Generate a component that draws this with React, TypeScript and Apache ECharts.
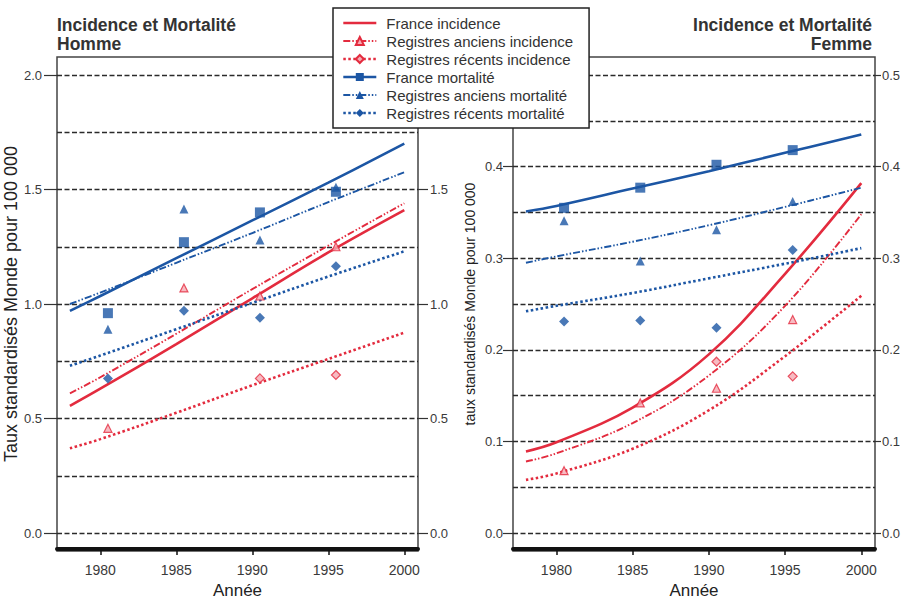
import React, { useEffect, useRef } from 'react';
import * as echarts from 'echarts';

// ---------- data ----------
const fitYears = [1978, 1980, 1985, 1990, 1995, 2000];
const pointYears = [1980.5, 1985.5, 1990.5, 1995.5];
const xTickYears = [1980, 1985, 1990, 1995, 2000];

const seriesNames = [
  'France incidence',
  'Registres anciens incidence',
  'Registres récents incidence',
  'France mortalité',
  'Registres anciens mortalité',
  'Registres récents mortalité',
];

// Homme – fitted curves
const hFranceInc = [0.555, 0.63, 0.825, 1.025, 1.225, 1.41];
const hAnciensInc = [0.61, 0.68, 0.87, 1.065, 1.255, 1.44];
const hRecentsInc = [0.37, 0.41, 0.525, 0.645, 0.76, 0.875];
const hFranceMort = [0.97, 1.035, 1.2, 1.365, 1.53, 1.7];
const hAnciensMort = [1.0, 1.05, 1.18, 1.31, 1.445, 1.575];
const hRecentsMort = [0.73, 0.775, 0.89, 1.005, 1.12, 1.23];
// Homme – observed points
const hAnciensIncPts = [0.457, 1.07, 1.035, 1.25];
const hRecentsIncPts = [null, null, 0.675, 0.69];
const hFranceMortPts = [0.96, 1.27, 1.4, 1.49];
const hAnciensMortPts = [0.89, 1.415, 1.28, 1.51];
const hRecentsMortPts = [0.675, 0.97, 0.94, 1.165];

// Femme – fitted curves
const fFranceInc = [0.089, 0.099, 0.137, 0.195, 0.283, 0.382];
const fAnciensInc = [0.078, 0.087, 0.12, 0.172, 0.248, 0.348];
const fRecentsInc = [0.058, 0.065, 0.092, 0.134, 0.193, 0.259];
const fFranceMort = [0.351, 0.357, 0.376, 0.395, 0.415, 0.435];
const fAnciensMort = [0.295, 0.302, 0.318, 0.336, 0.356, 0.377];
const fRecentsMort = [0.242, 0.248, 0.262, 0.278, 0.294, 0.311];
// Femme – observed points
const fAnciensIncPts = [0.068, 0.142, 0.158, 0.233];
const fRecentsIncPts = [null, null, 0.187, 0.171];
const fFranceMortPts = [0.355, 0.377, 0.402, 0.418];
const fAnciensMortPts = [0.341, 0.297, 0.331, 0.362];
const fRecentsMortPts = [0.231, 0.232, 0.224, 0.309];

const hommeYTicks = { min: 0, max: 2, label: 0.5, grid: 0.25 };
const femmeYTicks = { min: 0, max: 0.5, label: 0.1, grid: 0.05 };

// ---------- styles ----------
const FONT = '"Liberation Sans", Arial, Helvetica, sans-serif';
const RED = '#e32b3e';
const RED_FILL = '#f5aab3';
const BLUE = '#1c56a4';
const DASHDOT = [7, 2, 1.5, 2, 1.5, 2];
const DOTTED = [2.5, 2.5];

const styles = [
  { color: RED, type: 'solid', width: 2.6, symbol: 'none', size: 0, fill: RED, border: 0 },
  { color: RED, type: DASHDOT, width: 1.9, symbol: 'triangle', size: 8, fill: RED_FILL, border: 1.2 },
  { color: RED, type: DOTTED, width: 2.6, symbol: 'diamond', size: 9, fill: RED_FILL, border: 1.2 },
  { color: BLUE, type: 'solid', width: 2.6, symbol: 'rect', size: 10, fill: BLUE, border: 0 },
  { color: BLUE, type: DASHDOT, width: 1.9, symbol: 'triangle', size: 9, fill: BLUE, border: 0 },
  { color: BLUE, type: DOTTED, width: 2.6, symbol: 'diamond', size: 10, fill: BLUE, border: 0 },
];

function panelSeries(gridIdx: number, curves: number[][], points: ((number | null)[] | null)[]) {
  const out: any[] = [];
  curves.forEach((vals, i) => {
    const st = styles[i];
    out.push({
      type: 'line',
      name: seriesNames[i],
      xAxisIndex: gridIdx,
      yAxisIndex: gridIdx * 3,
      data: fitYears.map((x, k) => [x, vals[k]]),
      smooth: 0.4,
      showSymbol: false,
      symbol: st.symbol,
      lineStyle: { color: st.color, width: st.width, type: st.type, cap: 'butt' },
      itemStyle: { color: st.fill, borderColor: st.color, borderWidth: st.border },
      silent: true,
      z: 2,
    });
  });
  points.forEach((vals, i) => {
    if (!vals) return;
    const st = styles[i];
    const data: number[][] = [];
    vals.forEach((v, k) => {
      if (v !== null) data.push([pointYears[k], v]);
    });
    out.push({
      type: 'scatter',
      name: seriesNames[i],
      xAxisIndex: gridIdx,
      yAxisIndex: gridIdx * 3,
      data,
      symbol: st.symbol,
      symbolSize: st.size,
      itemStyle: { color: st.fill, borderColor: st.color, borderWidth: st.border },
      silent: true,
      z: 3,
    });
  });
  return out;
}

// hideAt: a tick value whose label is covered by the legend in the original
const labelStyle = (margin: number, hideAt: number | null) => ({
  show: true,
  margin,
  fontSize: 13,
  color: '#3a3a3a',
  fontFamily: FONT,
  formatter: (v: number) => (hideAt !== null && Math.abs(v - hideAt) < 1e-9 ? '' : v.toFixed(1)),
});

function yAxesFor(
  gridIdx: number,
  t: any,
  leftTick: number,
  leftMargin: number,
  leftHide: number | null,
  rightTick: number,
  rightMargin: number,
  rightHide: number | null,
  name: string,
  nameSize: number,
  nameGap: number
) {
  return [
    {
      gridIndex: gridIdx,
      type: 'value',
      position: 'left',
      min: t.min,
      max: t.max,
      interval: t.label,
      axisLine: { show: false },
      axisTick: { show: true, length: leftTick, lineStyle: { color: '#333', width: 1.2 } },
      axisLabel: labelStyle(leftMargin, leftHide),
      splitLine: { show: false },
      name,
      nameLocation: 'middle',
      nameGap,
      nameTextStyle: { fontSize: nameSize, color: '#222', fontFamily: FONT },
    },
    {
      gridIndex: gridIdx,
      type: 'value',
      position: 'right',
      min: t.min,
      max: t.max,
      interval: t.label,
      axisLine: { show: false },
      axisTick: { show: true, length: rightTick, lineStyle: { color: '#333', width: 1.2 } },
      axisLabel: labelStyle(rightMargin, rightHide),
      splitLine: { show: false },
    },
    {
      gridIndex: gridIdx,
      type: 'value',
      position: 'right',
      min: t.min,
      max: t.max,
      interval: t.grid,
      axisLine: { show: false },
      axisTick: { show: false },
      axisLabel: { show: false },
      splitLine: { show: true, lineStyle: { color: '#2a2a2a', width: 1.3, type: [5, 2.5] } },
    },
  ];
}

function xAxisFor(gridIdx: number) {
  return {
    gridIndex: gridIdx,
    type: 'value',
    min: 1977.15,
    max: 2000.9,
    offset: 16,
    axisLine: { show: true, onZero: false, lineStyle: { color: '#111', width: 4 } },
    axisTick: { show: true, customValues: xTickYears, length: 6, lineStyle: { color: '#111', width: 1.5 } },
    axisLabel: {
      show: true,
      customValues: xTickYears,
      margin: 14,
      fontSize: 14,
      color: '#3a3a3a',
      fontFamily: FONT,
      formatter: (v: number) => String(v),
    },
    splitLine: { show: false },
    name: 'Année',
    nameLocation: 'middle',
    nameGap: 33,
    nameTextStyle: { fontSize: 17, color: '#222', fontFamily: FONT },
  };
}

const option: any = {
  animation: false,
  backgroundColor: '#ffffff',
  title: [
    {
      text: 'Incidence et Mortalité\nHomme',
      left: 57,
      top: 15,
      padding: 0,
      textStyle: { fontSize: 17.5, fontWeight: 'bold', color: '#333', fontFamily: FONT, lineHeight: 19 },
    },
    {
      text: 'Incidence et Mortalité\nFemme',
      left: 872,
      top: 15,
      padding: 0,
      textAlign: 'right',
      textStyle: { fontSize: 17.5, fontWeight: 'bold', color: '#333', fontFamily: FONT, lineHeight: 19, align: 'right' },
    },
  ],
  legend: {
    left: 333,
    top: 8,
    orient: 'vertical',
    padding: [7.5, 16, 7.5, 9],
    itemWidth: 33,
    itemHeight: 10,
    itemGap: 3,
    backgroundColor: '#ffffff',
    borderColor: '#222',
    borderWidth: 1.5,
    borderRadius: 0,
    selectedMode: false,
    lineStyle: { width: 'inherit' },
    textStyle: { fontSize: 15, color: '#333', fontFamily: FONT, padding: [0, 0, 0, 5] },
    data: seriesNames.map((n, i) => (i === 0 ? { name: n, itemStyle: { opacity: 0 } } : n)),
    z: 10,
  },
  grid: [
    { left: 57, top: 75, width: 361, height: 460 },
    { left: 513, top: 75, width: 362, height: 460 },
  ],
  xAxis: [xAxisFor(0), xAxisFor(1)],
  yAxis: [
    ...yAxesFor(0, hommeYTicks, 13, 15, null, 10, 12, 2, 'Taux standardisés Monde pour 100 000', 18, 34),
    ...yAxesFor(1, femmeYTicks, 10, 10, 0.5, 6, 7, null, 'taux standardisés Monde pour 100 000', 14, 36),
  ],
  graphic: [
    { type: 'rect', shape: { x: 57, y: 57, width: 361, height: 494 }, style: { fill: 'none', stroke: '#444', lineWidth: 1.5 }, silent: true },
    { type: 'rect', shape: { x: 513, y: 57, width: 362, height: 494 }, style: { fill: 'none', stroke: '#444', lineWidth: 1.5 }, silent: true },
  ],
  series: [
    ...panelSeries(
      0,
      [hFranceInc, hAnciensInc, hRecentsInc, hFranceMort, hAnciensMort, hRecentsMort],
      [null, hAnciensIncPts, hRecentsIncPts, hFranceMortPts, hAnciensMortPts, hRecentsMortPts]
    ),
    ...panelSeries(
      1,
      [fFranceInc, fAnciensInc, fRecentsInc, fFranceMort, fAnciensMort, fRecentsMort],
      [null, fAnciensIncPts, fRecentsIncPts, fFranceMortPts, fAnciensMortPts, fRecentsMortPts]
    ),
  ],
};

export default function App() {
  const ref = useRef<HTMLDivElement>(null);
  useEffect(() => {
    const chart = echarts.init(ref.current as HTMLDivElement, null, { renderer: 'svg' });
    chart.setOption(option);
    return () => chart.dispose();
  }, []);
  return (
    <div
      ref={ref}
      style={{ position: 'fixed', left: 0, top: 0, width: 912, height: 604, background: '#fff' }}
    />
  );
}
